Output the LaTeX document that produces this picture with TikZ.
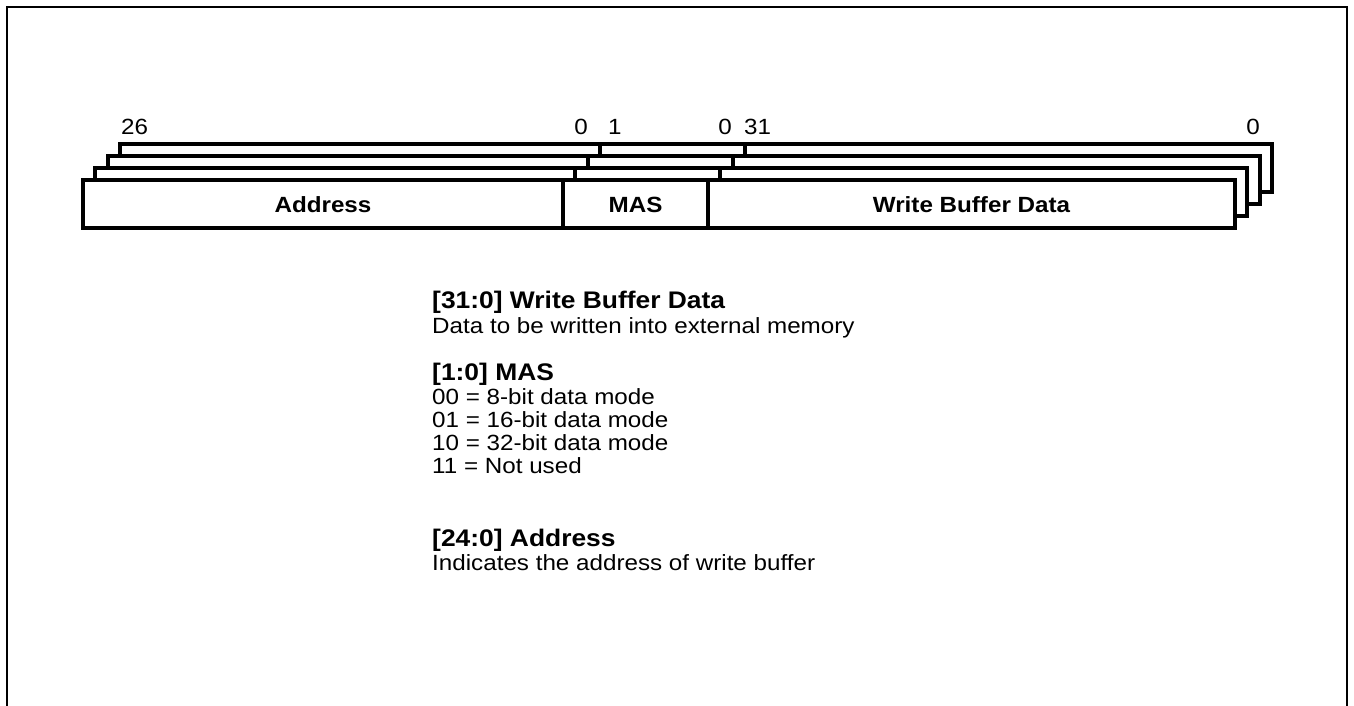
\documentclass[tikz,border=0pt]{standalone}
\usepackage{fontspec}
\setmainfont{Liberation Sans}
\begin{document}
\begin{tikzpicture}[x=1pt,y=-1pt,
  frameline/.style={line width=2.5pt},
  layerbox/.style={line width=4pt, fill=white},
  layerdiv/.style={line width=4pt},
  numlbl/.style={inner sep=0pt, xscale=1.1, font=\fontsize{22}{24}\selectfont},
  celllbl/.style={inner sep=0pt, xscale=1.1, font=\fontsize{22}{24}\selectfont\bfseries},
  headtxt/.style={inner sep=0pt, anchor=base west, xscale=1.1, font=\fontsize{24}{26}\selectfont\bfseries},
  desctxt/.style={inner sep=0pt, anchor=base west, xscale=1.1, font=\fontsize{22}{24}\selectfont}]
\useasboundingbox (0,0) rectangle (1354,706);
% outer frame
\draw[frameline] (7,706) -- (7,7) -- (1347,7) -- (1347,706);
% stacked register layers
\foreach \k in {3,2,1,0}{
  \begin{scope}[shift={(12.4*\k,-12*\k)}]
    \draw[layerbox] (83,180) rectangle (1235,228);
    \draw[layerdiv] (563,180) -- (563,228);
    \draw[layerdiv] (708,180) -- (708,228);
  \end{scope}
}
% cell labels
\node[celllbl] (addr) at (323,205) {Address};
\node[celllbl] (mas) at (635.5,205) {MAS};
\node[celllbl] (wbd) at (971.5,205) {Write Buffer Data};
% bit numbers
\node[numlbl, anchor=west] (b26) at (121,127) {26};
\node[numlbl, anchor=east] (b0a) at (588,127) {0};
\node[numlbl, anchor=west] (b1) at (608,127) {1};
\node[numlbl, anchor=east] (b0b) at (732,127) {0};
\node[numlbl, anchor=west] (b31) at (744,127) {31};
\node[numlbl, anchor=east] (b0c) at (1260,127) {0};
% descriptions
\node[headtxt] (h1) at (432,308.5) {[31:0] Write Buffer Data};
\node[desctxt] (d1) at (432,333.5) {Data to be written into external memory};
\node[headtxt] (h2) at (432,380.5) {[1:0] MAS};
\node[desctxt] (d2) at (432,404) {00 = 8-bit data mode};
\node[desctxt] (d3) at (432,427) {01 = 16-bit data mode};
\node[desctxt] (d4) at (432,450) {10 = 32-bit data mode};
\node[desctxt] (d5) at (432,473) {11 = Not used};
\node[headtxt] (h3) at (432,546.5) {[24:0] Address};
\node[desctxt] (d6) at (432,570) {Indicates the address of write buffer};
\end{tikzpicture}
\end{document}
